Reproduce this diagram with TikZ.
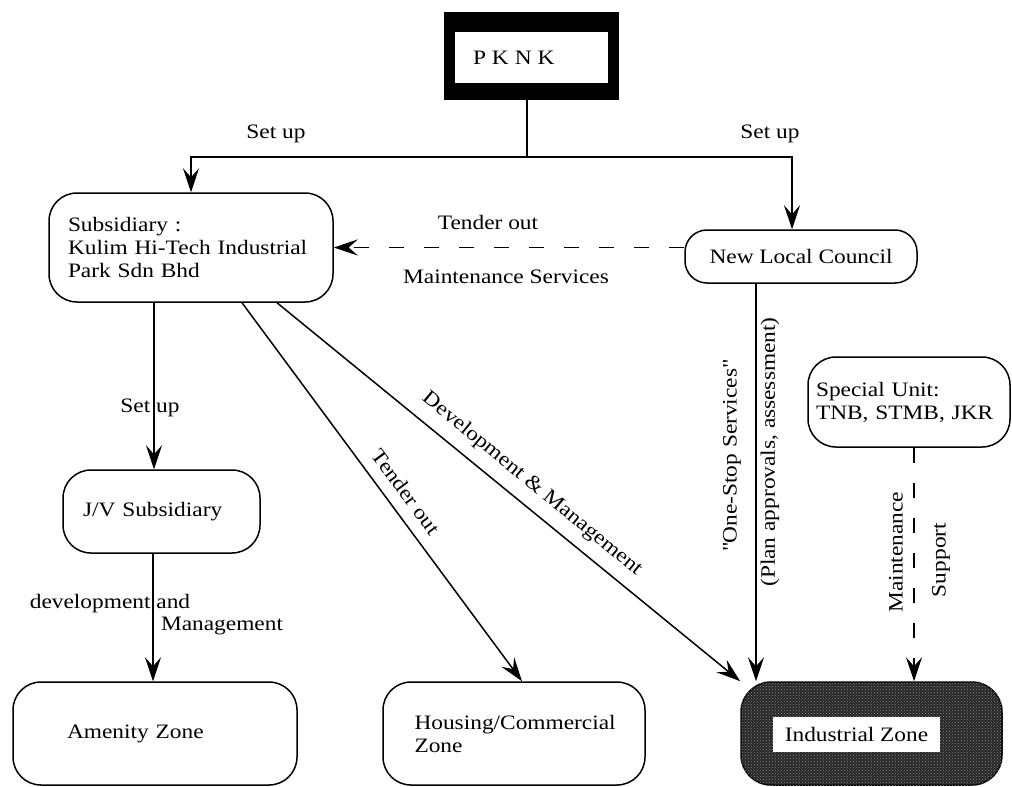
\documentclass[tikz,border=0pt]{standalone}
\usepackage{fontspec}
\setmainfont{Liberation Serif}[FakeStretch=1.14]
\usetikzlibrary{arrows.meta, patterns}

\tikzset{
  box/.style={draw, line width=1.5pt, rounded corners=28pt, inner sep=0pt},
  conn/.style={line width=1.5pt},
  arr/.style={line width=1.5pt, -{Stealth[length=24pt, width=16pt, inset=9pt]}},
  dashline/.style={dash pattern=on 15pt off 20pt},
  lbl/.style={inner sep=0pt}
}

\begin{document}
\begin{tikzpicture}[x=1pt, y=-1pt, every node/.style={font=\fontsize{20.5}{23}\selectfont}]
\useasboundingbox (0,0) rectangle (1012,787);

% boxes
\node[fill=black, minimum width=175pt, minimum height=88pt, inner sep=0pt] (pknk) at (531.5,56) {};
\node[fill=white, minimum height=51pt, text width=117pt, inner xsep=18pt, inner ysep=0pt, align=left] (pknkin) at (531.5,57.5) {P\hspace{6pt}K\hspace{6pt}N\hspace{6pt}K};
\node[box, minimum width=284pt, minimum height=109pt, text width=246pt, inner xsep=19pt, align=left] (sub) at (191,247.5) {Subsidiary :\\Kulim Hi-Tech Industrial\\Park Sdn Bhd};
\node[box, rounded corners=22pt, minimum width=232pt, minimum height=53pt] (council) at (801,256.5) {New Local Council};
\node[box, minimum width=202pt, minimum height=90pt, text width=186pt, inner xsep=8pt, align=left] (special) at (909,402) {Special Unit:\\TNB, STMB, JKR};
\node[box, minimum width=197pt, minimum height=83pt, text width=157pt, inner xsep=20pt, align=left] (jv) at (161.5,511.5) {J/V Subsidiary};
\node[box, minimum width=284pt, minimum height=103pt, text width=176pt, inner xsep=54pt, align=left] (amenity) at (155,733.5) {Amenity Zone};
\node[box, minimum width=262pt, minimum height=103pt, text width=199pt, inner xsep=31.5pt, align=left] (housing) at (514,733.5) {Housing/Commercial\\Zone};
\node[draw, line width=1.5pt, fill=black!85, rounded corners=30pt, minimum width=261pt, minimum height=103pt] (industrial) at (871.5,733.5) {};
\fill[pattern=crosshatch dots, pattern color=black!45, rounded corners=30pt] (industrial.south west) rectangle (industrial.north east);
\node[fill=white, minimum width=167pt, minimum height=35pt, inner sep=0pt] (indlabel) at (856.5,734.5) {Industrial Zone};

% set up from PKNK
\coordinate (split) at (527,157);
\draw[conn] (pknk.south -| split) -- (split);
\draw[arr] (split) -| (sub.north);
\draw[arr] (split) -| ([xshift=-9pt]council.north);
\node[lbl] (setupl) at (276,134) {Set up};
\node[lbl] (setupr) at (770,134) {Set up};

% tender out
\draw[arr, dashline] (council.west |- sub.east) -- (sub.east);
\node[lbl] (tenderh) at (488,222) {Tender out};
\node[lbl] (maintsvc) at (506,277) {Maintenance Services};

% subsidiary to zones
\draw[arr] (sub.south -| 154,0) -- (jv.north -| 154,0);
\node[lbl] (setupm) at (150,408) {Set up};
\draw[arr] (jv.south -| 153,0) -- (amenity.north -| 153,0);
\node[lbl] (devand) at (110,604) {development and};
\node[lbl] (mgmt) at (222,626) {Management};
\draw[arr] (sub.south -| 242,0) -- (housing.north -| 522,0);
\node[lbl, rotate=-53.5] (tenderd) at (406,492) {Tender out};
\draw[arr] (sub.south -| 277,0) -- (industrial.north west);
\node[lbl, rotate=-39.3] (devmgmt) at (532,484) {Development \& Management};

% council and special unit
\draw[arr] (council.south -| 756,0) -- (industrial.north -| 756,0);
\node[lbl, rotate=90] (onestop) at (732,456) {\textquotedbl One-Stop Services\textquotedbl};
\node[lbl, rotate=90] (plan) at (770,452) {(Plan approvals, assessment)};
\draw[arr, dashline] (special.south -| 914,0) -- (industrial.north -| 914,0);
\node[lbl, rotate=90] (maint) at (896,552) {Maintenance};
\node[lbl, rotate=90] (support) at (941,560) {Support};
\end{tikzpicture}
\end{document}
